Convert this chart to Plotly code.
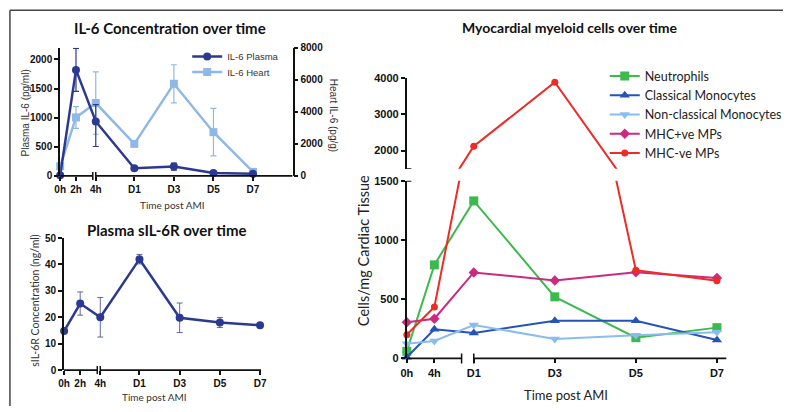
import plotly.graph_objects as go

# ---------------- data ----------------
il6_times = ["0h", "2h", "4h", "D1", "D3", "D5", "D7"]
il6_plasma = [10, 1820, 935, 130, 160, 50, 35]
il6_plasma_err_plus = [5, 370, 290, 30, 60, 20, 10]
il6_plasma_err_minus = [5, 370, 430, 30, 60, 20, 10]
il6_heart = [600, 3650, 4550, 2000, 5750, 2730, 250]
il6_heart_err = [100, 680, 1950, 100, 1190, 1480, 80]

sil6r_times = ["0h", "2h", "4h", "D1", "D3", "D5", "D7"]
sil6r = [14.8, 25.2, 20.0, 42.0, 19.8, 18.0, 17.0]
sil6r_err = [0.8, 4.4, 7.5, 1.8, 5.6, 1.9, 0.6]

cell_times = ["0h", "4h", "D1", "D3", "D5", "D7"]
neutrophils = [60, 790, 1330, 520, 175, 260]
classical_mono = [10, 246, 215, 318, 318, 155]
nonclassical_mono = [123, 148, 282, 165, 195, 220]
mhc_pos_mps = [305, 335, 726, 658, 728, 680]
mhc_neg_mps = [200, 435, 2120, 3880, 745, 655]

# ---------------- layout helpers ----------------
W, H = 789, 412


def fx(p):
    return p / W


def fy(p):
    return 1 - p / H


# axis positions for the (broken) time axes
left_pos = {"0h": -2.75, "2h": -1.95, "4h": -0.95, "D1": 1, "D3": 3, "D5": 5, "D7": 7}
left_break = -1.1
right_pos = {"0h": -0.652, "4h": 0.028, "D1": 1, "D3": 3, "D5": 5, "D7": 7}
right_break = 0.70
Y_BREAK = 1500

NAVY = "#2b3990"
LIGHT = "#8fb8e6"
GREEN = "#3dba4e"
BLUE = "#2553b8"
LBLUE = "#8abcee"
MAGENTA = "#cc2a80"
RED = "#ee2b25"
AX = "#111111"

TICKFONT = dict(family="Liberation Sans, Arial", size=10, color="#111", weight="bold")
TICKFONT_R = dict(family="Liberation Sans, Arial", size=11, color="#111", weight="bold")

fig = go.Figure()

# ---------------- top-left: IL-6 ----------------
xl = [left_pos[t] for t in il6_times]
fig.add_trace(go.Scatter(
    x=xl, y=il6_plasma, xaxis="x", yaxis="y2", name="IL-6 Plasma",
    mode="lines+markers", line=dict(color=NAVY, width=2.5),
    marker=dict(symbol="circle", size=8, color=NAVY),
    error_y=dict(type="data", symmetric=False, array=il6_plasma_err_plus,
                 arrayminus=il6_plasma_err_minus, color=NAVY, thickness=1.2, width=3),
    cliponaxis=False, legend="legend"))
fig.add_trace(go.Scatter(
    x=xl, y=il6_heart, xaxis="x", yaxis="y", name="IL-6 Heart",
    mode="lines+markers", line=dict(color=LIGHT, width=2.5),
    marker=dict(symbol="square", size=8, color=LIGHT),
    error_y=dict(type="data", array=il6_heart_err, color=LIGHT, thickness=1.2, width=3),
    cliponaxis=False, legend="legend3"))

# ---------------- bottom-left: sIL-6R ----------------
fig.add_trace(go.Scatter(
    x=[left_pos[t] for t in sil6r_times], y=sil6r, xaxis="x2", yaxis="y3",
    mode="lines+markers", line=dict(color=NAVY, width=2.5),
    marker=dict(symbol="circle", size=8, color=NAVY),
    error_y=dict(type="data", array=sil6r_err, color="rgba(43,57,144,0.75)", thickness=1, width=3),
    cliponaxis=False, showlegend=False))

# ---------------- right: myeloid cells (broken y axis) ----------------
series = [
    ("Neutrophils", neutrophils, GREEN, "square", 9),
    ("Classical Monocytes", classical_mono, BLUE, "triangle-up", 9),
    ("Non-classical Monocytes", nonclassical_mono, LBLUE, "triangle-down", 9),
    ("MHC+ve MPs", mhc_pos_mps, MAGENTA, "diamond", 8),
    ("MHC-ve MPs", mhc_neg_mps, RED, "circle", 7),
]
xr = [right_pos[t] for t in cell_times]
for name, vals, color, sym, size in series:
    fig.add_trace(go.Scatter(x=xr, y=vals, xaxis="x3", yaxis="y4", mode="lines",
                             line=dict(color=color, width=2), showlegend=False, hoverinfo="skip"))
    if max(vals) > Y_BREAK:
        fig.add_trace(go.Scatter(x=xr, y=vals, xaxis="x3", yaxis="y5", mode="lines",
                                 line=dict(color=color, width=2), showlegend=False, hoverinfo="skip"))
    lo = [(x, v) for x, v in zip(xr, vals) if v <= Y_BREAK]
    hi = [(x, v) for x, v in zip(xr, vals) if v > Y_BREAK]
    fig.add_trace(go.Scatter(x=[p[0] for p in lo], y=[p[1] for p in lo], xaxis="x3", yaxis="y4",
                             mode="markers", marker=dict(symbol=sym, size=size, color=color),
                             cliponaxis=False, showlegend=False))
    if hi:
        fig.add_trace(go.Scatter(x=[p[0] for p in hi], y=[p[1] for p in hi], xaxis="x3", yaxis="y5",
                                 mode="markers", marker=dict(symbol=sym, size=size, color=color),
                                 cliponaxis=False, showlegend=False))
    # legend entry
    fig.add_trace(go.Scatter(x=[None], y=[None], xaxis="x3", yaxis="y4", name=name,
                             mode="lines+markers", line=dict(color=color, width=2),
                             marker=dict(symbol=sym, size=size, color=color), legend="legend2"))

# ---------------- axes ----------------
def xaxis_cfg(domain, rng, anchor, pos, labels, font):
    return dict(domain=domain, range=rng, anchor=anchor,
                tickmode="array", tickvals=[pos[t] for t in labels], ticktext=labels,
                ticks="outside", ticklen=4, tickwidth=1.5, tickcolor=AX,
                showline=False, showgrid=False, zeroline=False, tickfont=font)


def yaxis_cfg(domain, rng, anchor, tickvals, font, **kw):
    d = dict(domain=domain, range=rng, anchor=anchor, tickmode="array", tickvals=tickvals,
             ticks="outside", ticklen=4, tickwidth=1.5, tickcolor=AX,
             showline=True, linewidth=1.8, linecolor=AX,
             showgrid=False, zeroline=False, tickfont=font)
    d.update(kw)
    return d


LEG_SMALL = dict(family="Liberation Sans, Arial", size=9.5, color="#333")

fig.update_layout(
    width=W, height=H, margin=dict(l=0, r=0, t=0, b=0),
    paper_bgcolor="white", plot_bgcolor="white",
    xaxis=xaxis_cfg([fx(55), fx(291)], [-2.75, 9], "y", left_pos, il6_times, TICKFONT),
    yaxis=yaxis_cfg([fy(175), fy(43)], [0, 8000], "x", [0, 2000, 4000, 6000, 8000], TICKFONT, side="right"),
    yaxis2=yaxis_cfg([fy(175), fy(43)], [0, 2200], "x", [0, 500, 1000, 1500, 2000], TICKFONT,
                     side="left", overlaying="y"),
    xaxis2=xaxis_cfg([fx(59), fx(259)], [-2.75, 7.05], "y3", left_pos, sil6r_times, TICKFONT),
    yaxis3=yaxis_cfg([fy(375), fy(239)], [0, 50], "x2", [0, 10, 20, 30, 40, 50], TICKFONT),
    xaxis3=xaxis_cfg([fx(407), fx(731.7)], [-0.652, 7.238], "y4", right_pos, cell_times, TICKFONT_R),
    yaxis4=yaxis_cfg([fy(363), fy(180)], [0, Y_BREAK], "x3", [0, 500, 1000, 1500], TICKFONT_R),
    yaxis5=yaxis_cfg([fy(167.7), fy(74)], [Y_BREAK, 4000], "x3", [2000, 3000, 4000], TICKFONT_R),
    legend=dict(x=fx(184), y=fy(37), xanchor="left", yanchor="top", font=LEG_SMALL,
                bgcolor="rgba(0,0,0,0)"),
    legend3=dict(x=fx(184), y=fy(53), xanchor="left", yanchor="top", font=LEG_SMALL,
                 bgcolor="rgba(0,0,0,0)"),
    legend2=dict(x=fx(608), y=fy(57), xanchor="left", yanchor="top",
                 font=dict(family="Lato", size=12.5, color="#222"),
                 bgcolor="rgba(0,0,0,0)", tracegroupgap=0),
    showlegend=True,
)

# ---------------- shapes: frame, broken axes ----------------
shapes = [
    dict(type="line", xref="paper", yref="paper", x0=fx(4), x1=1, y0=fy(4.5), y1=fy(4.5),
         line=dict(color="#444", width=1.5)),
    dict(type="line", xref="paper", yref="paper", x0=fx(4), x1=fx(4), y0=0, y1=fy(4.5),
         line=dict(color="#444", width=1.5)),
]


def broken_x(xref, yref, segs, bars, half):
    out = []
    for a, b in segs:
        out.append(dict(type="line", xref=xref, yref=yref, x0=a, x1=b, y0=0, y1=0,
                        line=dict(color=AX, width=1.8)))
    for bx in bars:
        out.append(dict(type="line", xref=xref, yref=yref, x0=bx, x1=bx,
                        ysizemode="pixel", yanchor=0, y0=-half, y1=half,
                        line=dict(color=AX, width=1.5)))
    return out


shapes += broken_x("x", "y domain", [(-2.75, left_break), (left_pos["4h"], 9)],
                   [left_break, left_pos["4h"]], 4)
shapes += broken_x("x2", "y3 domain", [(-2.75, left_break), (left_pos["4h"], 7.05)],
                   [left_break, left_pos["4h"]], 4)
shapes += broken_x("x3", "y4 domain", [(-0.652, right_break), (1, 7.238)],
                   [right_break, 1], 5)
for yr in ["y4", "y5"]:
    shapes.append(dict(type="line", xref="x3", yref=yr, xsizemode="pixel", xanchor=-0.652,
                       x0=-4.5, x1=4.5, y0=Y_BREAK, y1=Y_BREAK, line=dict(color=AX, width=1.8)))
fig.update_layout(shapes=shapes)

# ---------------- annotations: titles ----------------
def ann(text, x, y, size, family="Lato", bold=False, angle=0, color="#111"):
    return dict(text=text, x=fx(x), y=fy(y), xref="paper", yref="paper", showarrow=False,
                xanchor="center", yanchor="middle", textangle=angle,
                font=dict(family=family, size=size, color=color, weight="bold" if bold else "normal"))


fig.update_layout(annotations=[
    ann("IL-6 Concentration over time", 166.5, 23, 15, bold=True),
    ann("Plasma sIL-6R over time", 162.5, 231, 15, bold=True),
    ann("Myocardial myeloid cells over time", 572.5, 22, 14, bold=True),
    ann("Time post AMI", 169, 205, 10, color="#333"),
    ann("Time post AMI", 151, 403, 10, color="#333"),
    ann("Time post AMI", 569, 401, 13, color="#222"),
    ann("Plasma IL-6 (pg/ml)", 20, 110, 10, family="Liberation Sans, Arial", angle=-90, color="#333"),
    ann("Heart IL-6 (pg/g)", 332, 113, 10, family="Liberation Sans, Arial", angle=90, color="#333"),
    ann("sIL-6R Concentration (ng/ml)", 30, 304, 10.5, angle=-90, color="#333"),
    ann("Cells/mg Cardiac Tissue", 363, 252, 14.5, angle=-90, color="#222"),
])

fig.write_html("out.html")
